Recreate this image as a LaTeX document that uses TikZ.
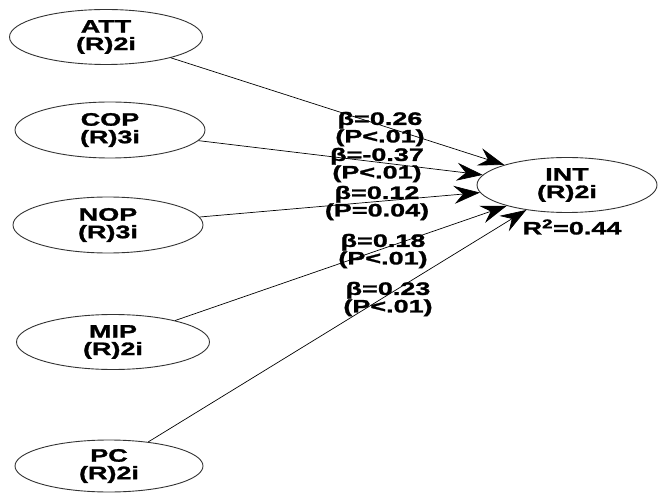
\documentclass[tikz,border=0pt]{standalone}
\usepackage{fontspec}
\newfontfamily\lbl{Liberation Sans}[FakeStretch=1.5,FakeBold=1.5]
\usetikzlibrary{shapes.geometric,arrows.meta}
\begin{document}
\begin{tikzpicture}[x=1bp,y=-1bp,
  font=\lbl\bfseries\fontsize{18bp}{17.5bp}\selectfont,
  lv/.style={ellipse,draw=black!80,line width=0.9bp,inner sep=0pt,align=center},
  lab/.style={align=center,inner sep=0pt},
  path/.style={draw,line width=0.7bp,-{Stealth[length=26bp,width=18bp,inset=9bp]},shorten >=0pt}]
\useasboundingbox (0,0) rectangle (658,493);
\node[lv,minimum width=193bp,minimum height=55bp] (ATT) at (106,37) {ATT\\(R)2i};
\node[lv,minimum width=190bp,minimum height=56bp] (COP) at (110,130) {COP\\(R)3i};
\node[lv,minimum width=190bp,minimum height=56bp] (NOP) at (108,225) {NOP\\(R)3i};
\node[lv,minimum width=193bp,minimum height=55bp] (MIP) at (113,342) {MIP\\(R)2i};
\node[lv,minimum width=188bp,minimum height=52bp] (PC) at (109,466) {PC\\(R)2i};
\node[lv,minimum width=180bp,minimum height=55bp] (INT) at (567,185) {INT\\(R)2i};
\node[lab] (r2) at (572,227) {R\textsuperscript{2}=0.44};
\draw[path] (ATT) -- (INT);
\draw[path] (COP) -- (INT);
\draw[path] (NOP) -- (INT);
\draw[path] (MIP) -- (INT);
\draw[path] (PC) -- (INT);
\node[lab] (l1) at (380,129) {β=0.26\\(P<.01)};
\node[lab] (l2) at (377,165) {β=-0.37\\(P<.01)};
\node[lab] (l3) at (377,203) {β=0.12\\(P=0.04)};
\node[lab] (l4) at (383,251) {β=0.18\\(P<.01)};
\node[lab] (l5) at (388,299) {β=0.23\\(P<.01)};
\end{tikzpicture}
\end{document}
